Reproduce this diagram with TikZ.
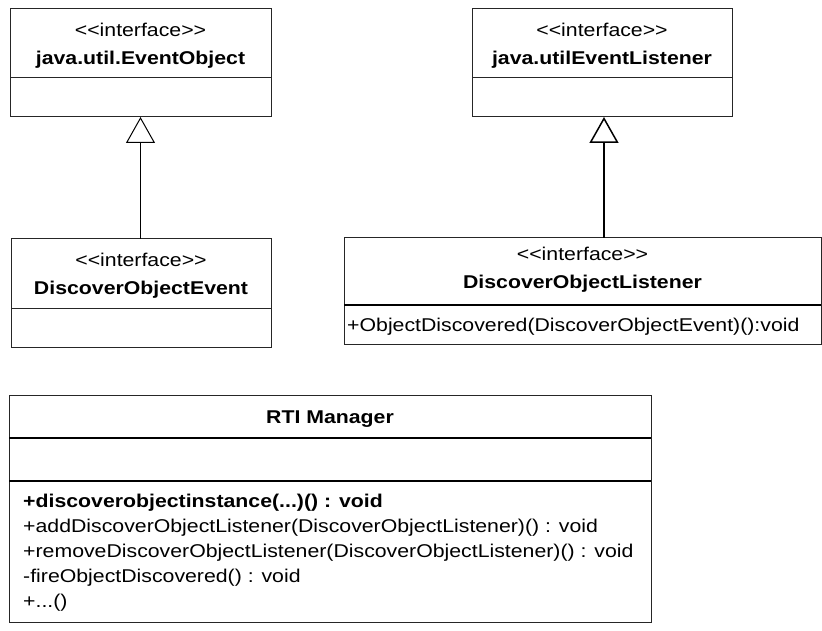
\documentclass[tikz,border=0pt]{standalone}
\usepackage{fontspec}
\newfontfamily\umlfont{Liberation Sans}[FakeStretch=1.15]
\usetikzlibrary{arrows.meta}
\begin{document}
\begin{tikzpicture}[x=1pt,y=-1pt,
  box/.style={draw=black!85, line width=1pt, anchor=north west, inner sep=0pt, outer sep=0pt},
  sep/.style={draw=black!85, line width=1pt},
  thicksep/.style={draw=black, line width=1.6pt},
  txt/.style={inner sep=0pt, anchor=base, font=\umlfont\fontsize{18.5}{22}\selectfont},
  btxt/.style={txt, font=\umlfont\fontsize{18.5}{22}\selectfont\bfseries},
  mtxt/.style={txt, anchor=base west},
  bmtxt/.style={btxt, anchor=base west},
  gen/.style={-{Triangle[open,length=26pt,width=29pt]}, line width=1pt, draw=black}]
\useasboundingbox (0,0) rectangle (822,631);

% java.util.EventObject
\node[box, minimum width=261pt, minimum height=108pt] (eo) at (10,9) {};
\draw[sep] (10,78) -- (271,78);
\node[txt] (eos) at (140.5,37) {<<interface>>};
\node[btxt] (eot) at (140.5,65) {java.util.EventObject};

% java.utilEventListener
\node[box, minimum width=260pt, minimum height=108pt] (el) at (472,9) {};
\draw[sep] (472,78) -- (732,78);
\node[txt] (els) at (602,37) {<<interface>>};
\node[btxt] (elt) at (602,65) {java.utilEventListener};

% DiscoverObjectEvent
\node[box, minimum width=260pt, minimum height=108pt] (de) at (11,239) {};
\draw[sep] (11,308) -- (271,308);
\node[txt] (des) at (141,266) {<<interface>>};
\node[btxt] (det) at (141,294) {DiscoverObjectEvent};

% DiscoverObjectListener
\node[box, minimum width=477pt, minimum height=106pt] (dl) at (344,238) {};
\draw[thicksep] (344,305) -- (821,305);
\node[txt] (dls) at (582.5,260) {<<interface>>};
\node[btxt] (dlt) at (582.5,288) {DiscoverObjectListener};
\node[mtxt] (dlm) at (347,331) {+ObjectDiscovered(DiscoverObjectEvent)():void};

% RTI Manager
\node[box, minimum width=642pt, minimum height=227pt] (rti) at (9,395) {};
\draw[thicksep] (9,438) -- (651,438);
\draw[thicksep] (9,481) -- (651,481);
\node[btxt] (rtit) at (330,423) {RTI Manager};
\node[bmtxt] (m1) at (23,507) {+discoverobjectinstance(...)() : void};
\node[mtxt] (m2) at (23,532) {+addDiscoverObjectListener(DiscoverObjectListener)() : void};
\node[mtxt] (m3) at (23,557) {+removeDiscoverObjectListener(DiscoverObjectListener)() : void};
\node[mtxt] (m4) at (23,582) {-fireObjectDiscovered() : void};
\node[mtxt] (m5) at (23,607) {+...()};

% generalizations
\draw[gen] (de.north -| 140.5,0) -- (eo.south -| 140.5,0);
\draw[gen, line width=1.5pt] (dl.north -| 604,0) -- (el.south -| 604,0);
\end{tikzpicture}
\end{document}
